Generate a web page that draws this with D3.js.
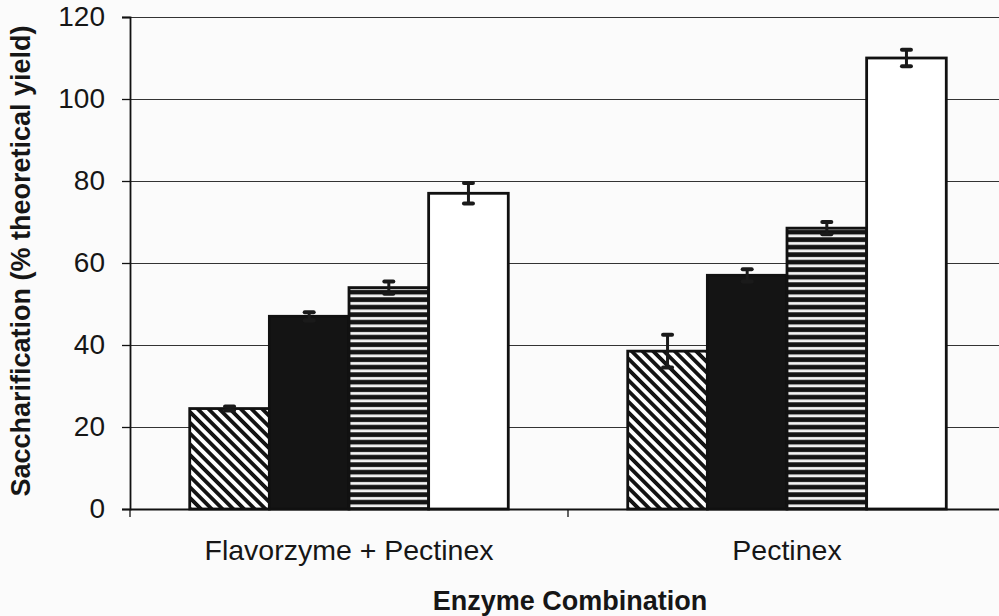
<!DOCTYPE html>
<html>
<head>
<meta charset="utf-8">
<script src="https://cdn.jsdelivr.net/npm/d3@7"></script>
<style>
  body { margin: 0; background: #fbfbfb; }
  svg { display: block; }
  text { font-family: "Liberation Sans", Arial, sans-serif; fill: #161616; }
</style>
</head>
<body>
<div id="chart"></div>
<script>
// categories and series (series names are not shown in the picture; patterns only)
var categories = ["Flavorzyme + Pectinex", "Pectinex"];
var series = ["s1", "s2", "s3", "s4"];
var values = [
  [24.5, 47, 54, 77],
  [38.5, 57, 68.5, 110]
];
var errors = [
  [0.5, 1, 1.5, 2.5],
  [4, 1.5, 1.5, 2]
];
var yTicks = [0, 20, 40, 60, 80, 100, 120];
var fills = ["url(#diag)", "#141414", "url(#horiz)", "#ffffff"];

var W = 999, H = 616;
var plotLeft = 130, plotRight = 1006, plotTop = 17, plotBottom = 509;

var svg = d3.select("#chart").append("svg")
  .attr("width", W)
  .attr("height", H);

var defs = svg.append("defs");

// diagonal stripes, top-left to bottom-right
var diag = defs.append("pattern")
  .attr("id", "diag")
  .attr("patternUnits", "userSpaceOnUse")
  .attr("width", 7.6)
  .attr("height", 7.6)
  .attr("patternTransform", "rotate(-45)");
diag.append("rect").attr("width", 7.6).attr("height", 7.6).attr("fill", "#fff");
diag.append("rect").attr("width", 3.8).attr("height", 7.6).attr("fill", "#141414");

// horizontal white lines on black
var horiz = defs.append("pattern")
  .attr("id", "horiz")
  .attr("patternUnits", "userSpaceOnUse")
  .attr("width", 10)
  .attr("height", 7.5);
horiz.append("rect").attr("width", 10).attr("height", 7.5).attr("fill", "#141414");
horiz.append("rect").attr("y", 2).attr("width", 10).attr("height", 2.8).attr("fill", "#f4f4f4");

var x0 = d3.scaleBand()
  .domain(categories)
  .range([plotLeft, plotRight])
  .padding(0);

var x1 = d3.scaleBand()
  .domain(series)
  .range([0, x0.bandwidth()])
  .paddingInner(0)
  .paddingOuter(0.75);

var y = d3.scaleLinear()
  .domain([0, 120])
  .range([plotBottom, plotTop]);

// gridlines
svg.append("g")
  .attr("class", "grid")
  .attr("transform", "translate(" + plotLeft + ",0)")
  .call(d3.axisLeft(y).tickValues(yTicks).tickSize(-(plotRight - plotLeft)).tickFormat(""))
  .call(function(g) {
    g.select(".domain").remove();
    g.selectAll("line").attr("stroke", "#333").attr("stroke-width", 1.2);
  });

// bars
var groups = svg.append("g").selectAll("g")
  .data(categories)
  .enter().append("g")
  .attr("transform", function(d) { return "translate(" + x0(d) + ",0)"; });

groups.selectAll("rect")
  .data(function(d, i) {
    return series.map(function(s, j) {
      return {s: s, j: j, v: values[i][j], e: errors[i][j]};
    });
  })
  .enter().append("rect")
  .attr("x", function(d) { return x1(d.s); })
  .attr("y", function(d) { return y(d.v); })
  .attr("width", x1.bandwidth())
  .attr("height", function(d) { return y(0) - y(d.v); })
  .attr("fill", function(d) { return fills[d.j]; })
  .attr("stroke", "#111")
  .attr("stroke-width", 2.8);

// error bars
var eb = groups.selectAll("g.err")
  .data(function(d, i) {
    return series.map(function(s, j) {
      return {s: s, v: values[i][j], e: errors[i][j]};
    });
  })
  .enter().append("g")
  .attr("class", "err")
  .attr("transform", function(d) { return "translate(" + (x1(d.s) + x1.bandwidth() / 2) + ",0)"; });

eb.append("line")
  .attr("y1", function(d) { return y(d.v - d.e); })
  .attr("y2", function(d) { return y(d.v + d.e); })
  .attr("stroke", "#1a1a1a")
  .attr("stroke-width", 3);

eb.selectAll("line.cap")
  .data(function(d) { return [d.v - d.e, d.v + d.e]; })
  .enter().append("line")
  .attr("class", "cap")
  .attr("x1", -4.5).attr("x2", 4.5)
  .attr("y1", function(d) { return y(d); })
  .attr("y2", function(d) { return y(d); })
  .attr("stroke", "#1a1a1a")
  .attr("stroke-width", 4)
  .attr("stroke-linecap", "round");

// y axis
svg.append("g")
  .attr("transform", "translate(" + plotLeft + ",0)")
  .call(d3.axisLeft(y).tickValues(yTicks).tickSize(8).tickPadding(17))
  .call(function(g) {
    g.select(".domain").attr("stroke", "#111").attr("stroke-width", 1.8);
    g.selectAll("line").attr("stroke", "#111").attr("stroke-width", 1.3);
    g.selectAll("text")
      .style("font-size", "28px")
      .style("font-family", "'Liberation Sans', Arial, sans-serif")
      .attr("fill", "#161616");
  });

// x axis
var xAxis = d3.axisBottom(x0).tickSize(0).tickPadding(31);
svg.append("g")
  .attr("transform", "translate(0," + plotBottom + ")")
  .call(xAxis)
  .call(function(g) {
    g.select(".domain").attr("stroke", "#111").attr("stroke-width", 1.8);
    g.selectAll("text")
      .style("font-size", "28.5px")
      .style("font-family", "'Liberation Sans', Arial, sans-serif")
      .attr("fill", "#161616");
  });

// category separator ticks
svg.append("g").selectAll("line")
  .data(categories)
  .enter().append("line")
  .attr("x1", function(d) { return x0(d); })
  .attr("x2", function(d) { return x0(d); })
  .attr("y1", plotBottom)
  .attr("y2", plotBottom + 8)
  .attr("stroke", "#111")
  .attr("stroke-width", 1.3);

// axis titles
svg.append("text")
  .attr("x", 570)
  .attr("y", 610)
  .attr("text-anchor", "middle")
  .style("font-size", "27px")
  .style("font-weight", "bold")
  .text("Enzyme Combination");

svg.append("text")
  .attr("transform", "rotate(-90)")
  .attr("x", -(plotTop + plotBottom) / 2 + 2)
  .attr("y", 30)
  .attr("text-anchor", "middle")
  .style("font-size", "27px")
  .style("font-weight", "bold")
  .text("Saccharification (% theoretical yield)");
</script>
</body>
</html>
